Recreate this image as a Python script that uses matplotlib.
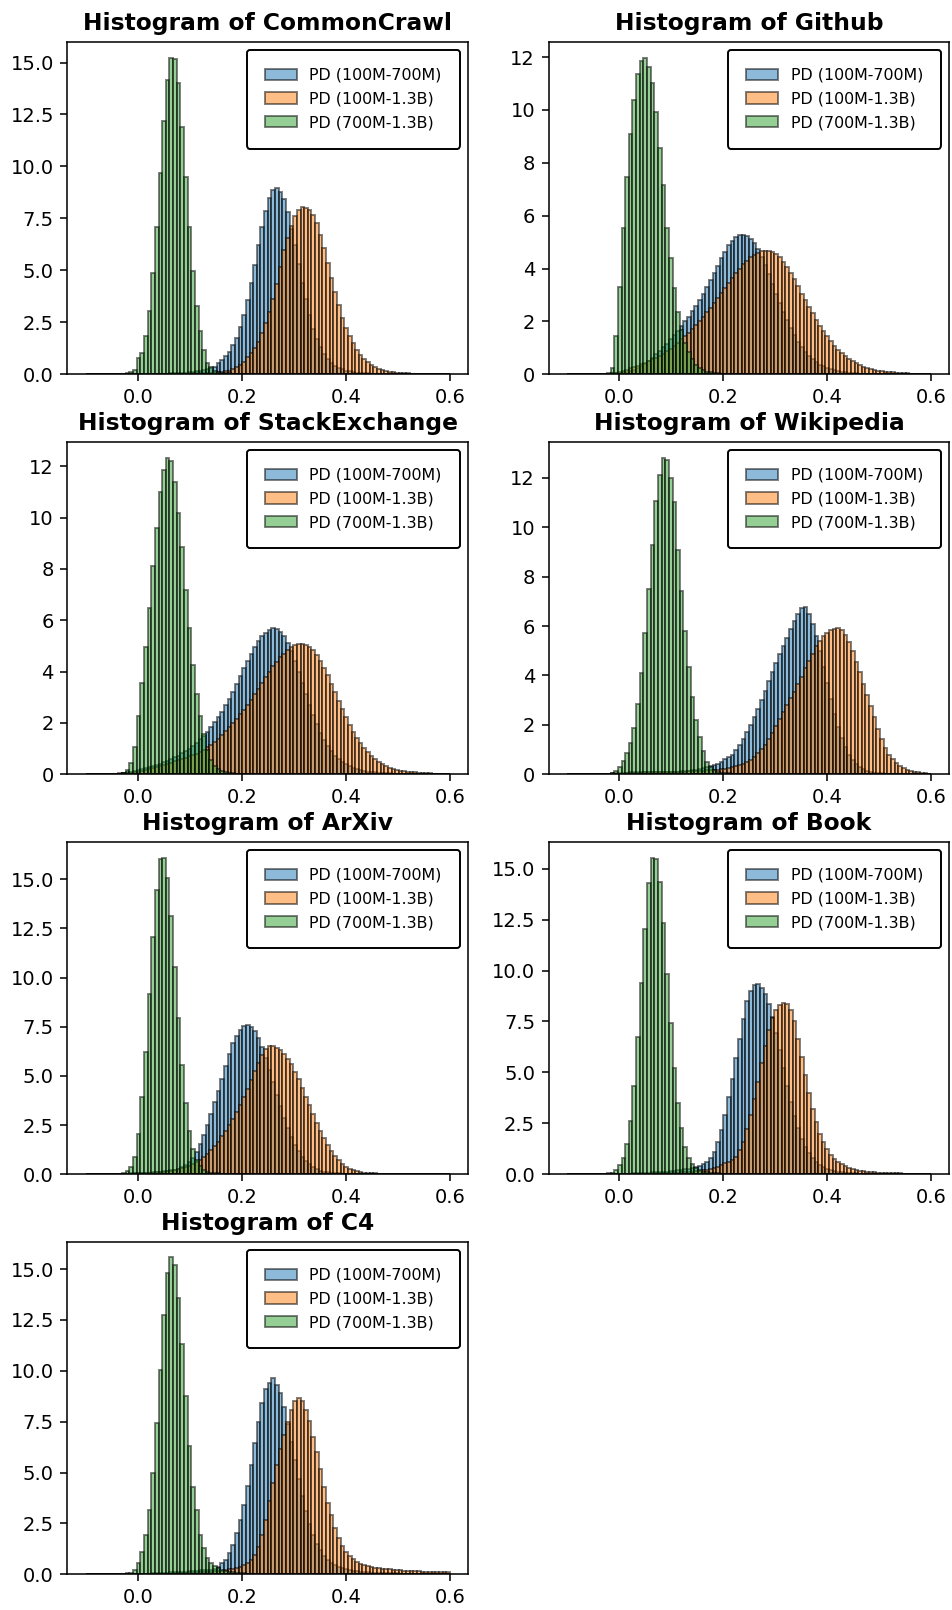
import numpy as np
import matplotlib
matplotlib.use('Agg')
import matplotlib.pyplot as plt

# --- histogram data (density per bin) --- #
# 100 bins spanning -0.1 .. 0.6
BIN_EDGES = np.linspace(-0.1, 0.6, 101)

SERIES_LABELS = ['PD (100M-700M)', 'PD (100M-1.3B)', 'PD (700M-1.3B)']
DATASETS = ['CommonCrawl', 'Github', 'StackExchange', 'Wikipedia', 'ArXiv', 'Book', 'C4']

# CommonCrawl
commoncrawl_100m_700m = [
    0, 0, 0, 0, 0, 0, 0, 0, 0, 0.01,
    0.01, 0.01, 0.01, 0.01, 0.01, 0.01, 0.01, 0.01, 0.02, 0.02,
    0.02, 0.03, 0.03, 0.04, 0.05, 0.06, 0.07, 0.08, 0.1, 0.12,
    0.14, 0.17, 0.2, 0.25, 0.3, 0.37, 0.56, 0.69, 0.88, 1.09,
    1.41, 1.73, 2.26, 2.85, 3.57, 4.41, 5.26, 6.22, 7.1, 7.87,
    8.46, 8.86, 8.97, 8.78, 8.43, 7.82, 7.0, 6.2, 5.3, 4.4,
    3.6, 2.85, 2.2, 1.7, 1.3, 1.0, 0.75, 0.56, 0.42, 0.32,
    0.24, 0.18, 0.14, 0.1, 0.08, 0.06, 0.05, 0.04, 0.03, 0.02,
    0.02, 0.02, 0.02, 0.02, 0.02, 0.01, 0.01, 0.01, 0.01, 0.01,
    0.01, 0.01, 0.01, 0.01, 0.01, 0.01, 0.01, 0.01, 0.01, 0.01,
]
commoncrawl_100m_13b = [
    0, 0, 0, 0, 0, 0, 0, 0, 0, 0,
    0, 0, 0, 0, 0, 0, 0.01, 0.01, 0.01, 0.01,
    0.01, 0.01, 0.01, 0.01, 0.01, 0.02, 0.02, 0.03, 0.03, 0.04,
    0.04, 0.05, 0.05, 0.06, 0.07, 0.08, 0.09, 0.11, 0.14, 0.18,
    0.24, 0.34, 0.45, 0.61, 0.85, 1.04, 1.25, 1.57, 1.97, 2.45,
    3.01, 3.6, 4.34, 5.18, 5.98, 6.54, 7.13, 7.61, 7.9, 8.06,
    8.01, 7.9, 7.66, 7.29, 6.7, 6.06, 5.34, 4.62, 3.97, 3.33,
    2.69, 2.24, 1.84, 1.49, 1.17, 0.93, 0.74, 0.58, 0.45, 0.34,
    0.26, 0.19, 0.14, 0.11, 0.09, 0.07, 0.06, 0.05, 0.04, 0.03,
    0.03, 0.02, 0.02, 0.02, 0.02, 0.02, 0.01, 0.01, 0.01, 0.01,
]
commoncrawl_700m_13b = [
    0, 0, 0, 0, 0, 0, 0, 0, 0.01, 0.02,
    0.03, 0.05, 0.1, 0.2, 0.77, 1.04, 1.84, 3.06, 4.86, 7.1,
    9.7, 12.18, 14.18, 15.24, 15.16, 14.0, 11.9, 9.5, 7.07, 4.97,
    3.3, 2.1, 1.17, 0.53, 0.33, 0.18, 0.12, 0.08, 0.05, 0.04,
    0.03, 0.02, 0.02, 0.02, 0.01, 0.01, 0.01, 0.01, 0.01, 0.01,
    0, 0, 0, 0, 0, 0, 0, 0, 0, 0,
    0, 0, 0, 0, 0, 0, 0, 0, 0, 0,
    0, 0, 0, 0, 0, 0, 0, 0, 0, 0,
    0, 0, 0, 0, 0, 0, 0, 0, 0, 0,
    0, 0, 0, 0, 0, 0, 0, 0, 0, 0,
]

# Github
github_100m_700m = [
    0, 0, 0, 0, 0, 0, 0, 0, 0.01, 0.01,
    0.02, 0.03, 0.04, 0.05, 0.06, 0.08, 0.1, 0.12, 0.15, 0.22,
    0.3, 0.4, 0.5, 0.62, 0.75, 0.88, 1.02, 1.16, 1.32, 1.48,
    1.64, 1.82, 2.0, 2.18, 2.38, 2.58, 2.8, 3.04, 3.3, 3.56,
    3.84, 4.1, 4.38, 4.64, 4.88, 5.06, 5.2, 5.27, 5.26, 5.24,
    5.12, 4.95, 4.72, 4.45, 4.12, 3.78, 3.42, 3.05, 2.7, 2.36,
    2.04, 1.75, 1.48, 1.24, 1.03, 0.85, 0.7, 0.57, 0.46, 0.37,
    0.3, 0.24, 0.19, 0.15, 0.12, 0.1, 0.08, 0.06, 0.05, 0.04,
    0.03, 0.02, 0.02, 0.02, 0.02, 0.02, 0.02, 0.02, 0.02, 0.02,
    0.01, 0.01, 0.01, 0.01, 0.01, 0.01, 0.01, 0.01, 0.01, 0.01,
]
github_100m_13b = [
    0, 0, 0, 0, 0, 0, 0, 0, 0, 0.01,
    0.02, 0.03, 0.04, 0.06, 0.1, 0.14, 0.18, 0.23, 0.28, 0.33,
    0.38, 0.44, 0.5, 0.56, 0.63, 0.7, 0.78, 0.87, 0.97, 1.08,
    1.2, 1.32, 1.45, 1.58, 1.72, 1.87, 2.02, 2.18, 2.35, 2.52,
    2.7, 2.88, 3.07, 3.26, 3.45, 3.64, 3.82, 4.0, 4.16, 4.3,
    4.42, 4.52, 4.6, 4.65, 4.67, 4.66, 4.62, 4.54, 4.42, 4.26,
    4.07, 3.85, 3.6, 3.33, 3.05, 2.8, 2.55, 2.3, 2.05, 1.82,
    1.62, 1.43, 1.25, 1.08, 0.93, 0.8, 0.68, 0.58, 0.49, 0.41,
    0.34, 0.28, 0.23, 0.19, 0.16, 0.13, 0.11, 0.09, 0.08, 0.07,
    0.06, 0.05, 0.04, 0.04, 0.03, 0.02, 0.02, 0.02, 0.02, 0.02,
]
github_700m_13b = [
    0, 0, 0, 0, 0, 0, 0, 0, 0, 0.01,
    0.02, 0.06, 0.23, 1.45, 3.31, 5.54, 7.47, 9.07, 10.39, 11.37,
    11.85, 11.98, 11.62, 11.0, 9.92, 8.54, 7.15, 5.54, 4.38, 3.25,
    2.37, 1.67, 1.17, 0.86, 0.57, 0.35, 0.23, 0.15, 0.1, 0.07,
    0.05, 0.04, 0.03, 0.02, 0.02, 0.01, 0.01, 0.01, 0.01, 0.01,
    0, 0, 0, 0, 0, 0, 0, 0, 0, 0,
    0, 0, 0, 0, 0, 0, 0, 0, 0, 0,
    0, 0, 0, 0, 0, 0, 0, 0, 0, 0,
    0, 0, 0, 0, 0, 0, 0, 0, 0, 0,
    0, 0, 0, 0, 0, 0, 0, 0, 0, 0,
]

# StackExchange
stackexchange_100m_700m = [
    0, 0, 0, 0, 0, 0.01, 0.01, 0.02, 0.03, 0.04,
    0.05, 0.08, 0.1, 0.13, 0.16, 0.2, 0.24, 0.28, 0.32, 0.37,
    0.42, 0.47, 0.53, 0.59, 0.66, 0.73, 0.81, 0.9, 1.0, 1.11,
    1.23, 1.36, 1.5, 1.66, 1.83, 2.02, 2.22, 2.44, 2.68, 2.94,
    3.22, 3.52, 3.83, 4.13, 4.42, 4.7, 4.96, 5.18, 5.37, 5.52,
    5.63, 5.69, 5.66, 5.55, 5.38, 5.12, 4.8, 4.42, 4.0, 3.56,
    3.12, 2.7, 2.3, 1.94, 1.62, 1.34, 1.1, 0.9, 0.73, 0.59,
    0.48, 0.39, 0.31, 0.25, 0.2, 0.16, 0.13, 0.1, 0.08, 0.07,
    0.06, 0.05, 0.04, 0.04, 0.03, 0.03, 0.02, 0.02, 0.02, 0.02,
    0.02, 0.02, 0.02, 0.02, 0.02, 0.02, 0.02, 0.02, 0.02, 0.02,
]
stackexchange_100m_13b = [
    0, 0, 0, 0, 0, 0, 0, 0.01, 0.02, 0.03,
    0.04, 0.05, 0.06, 0.08, 0.1, 0.13, 0.16, 0.19, 0.23, 0.27,
    0.31, 0.35, 0.4, 0.45, 0.5, 0.55, 0.6, 0.65, 0.7, 0.75,
    0.8, 0.88, 0.96, 1.05, 1.15, 1.26, 1.38, 1.52, 1.68, 1.84,
    2.0, 2.17, 2.34, 2.52, 2.71, 2.91, 3.12, 3.34, 3.56, 3.78,
    4.0, 4.2, 4.38, 4.55, 4.7, 4.83, 4.94, 5.02, 5.07, 5.08,
    5.04, 4.96, 4.84, 4.64, 4.42, 4.15, 3.85, 3.53, 3.2, 2.86,
    2.53, 2.22, 1.93, 1.66, 1.42, 1.2, 1.01, 0.85, 0.7, 0.58,
    0.48, 0.39, 0.32, 0.26, 0.21, 0.17, 0.14, 0.12, 0.1, 0.08,
    0.07, 0.06, 0.05, 0.04, 0.04, 0.03, 0.03, 0.02, 0.02, 0.02,
]
stackexchange_700m_13b = [
    0, 0, 0, 0, 0, 0, 0, 0, 0, 0.03,
    0.06, 0.15, 0.43, 1.08, 2.29, 3.55, 4.94, 6.47, 8.12, 9.6,
    11.0, 11.86, 12.34, 12.2, 11.4, 10.17, 8.87, 7.16, 5.69, 4.26,
    3.12, 2.27, 1.57, 0.95, 0.56, 0.33, 0.2, 0.12, 0.08, 0.05,
    0.04, 0.03, 0.02, 0.02, 0.02, 0.01, 0.01, 0.01, 0.01, 0.01,
    0, 0, 0, 0, 0, 0, 0, 0, 0, 0,
    0, 0, 0, 0, 0, 0, 0, 0, 0, 0,
    0, 0, 0, 0, 0, 0, 0, 0, 0, 0,
    0, 0, 0, 0, 0, 0, 0, 0, 0, 0,
    0, 0, 0, 0, 0, 0, 0, 0, 0, 0,
]

# Wikipedia
wikipedia_100m_700m = [
    0, 0, 0, 0, 0, 0, 0, 0, 0.01, 0.02,
    0.03, 0.03, 0.04, 0.04, 0.05, 0.05, 0.07, 0.08, 0.09, 0.1,
    0.1, 0.1, 0.1, 0.1, 0.1, 0.1, 0.1, 0.1, 0.1, 0.1,
    0.11, 0.12, 0.13, 0.14, 0.16, 0.18, 0.21, 0.24, 0.28, 0.32,
    0.37, 0.43, 0.5, 0.6, 0.7, 0.8, 0.98, 1.18, 1.42, 1.7,
    2.0, 2.32, 2.65, 3.0, 3.38, 3.76, 4.14, 4.5, 4.85, 5.18,
    5.5, 5.86, 6.2, 6.48, 6.72, 6.78, 6.5, 6.1, 5.6, 5.0,
    4.35, 3.7, 3.05, 2.45, 1.92, 1.47, 1.1, 0.8, 0.58, 0.41,
    0.29, 0.2, 0.14, 0.1, 0.07, 0.05, 0.04, 0.03, 0.02, 0.02,
    0.02, 0.02, 0.02, 0.01, 0.01, 0.01, 0.01, 0.01, 0.01, 0.01,
]
wikipedia_100m_13b = [
    0, 0, 0, 0, 0, 0, 0, 0, 0.01, 0.02,
    0.02, 0.02, 0.02, 0.02, 0.02, 0.03, 0.04, 0.05, 0.06, 0.07,
    0.07, 0.08, 0.08, 0.08, 0.09, 0.09, 0.09, 0.1, 0.1, 0.1,
    0.1, 0.11, 0.11, 0.12, 0.12, 0.13, 0.14, 0.15, 0.16, 0.17,
    0.18, 0.19, 0.2, 0.22, 0.25, 0.28, 0.32, 0.37, 0.43, 0.5,
    0.58, 0.7, 0.85, 1.02, 1.2, 1.42, 1.68, 1.95, 2.23, 2.52,
    2.8, 3.08, 3.35, 3.65, 3.95, 4.3, 4.6, 4.88, 5.18, 5.4,
    5.58, 5.71, 5.82, 5.9, 5.91, 5.84, 5.64, 5.37, 5.0, 4.56,
    4.13, 3.66, 3.21, 2.77, 2.31, 1.85, 1.43, 1.08, 0.8, 0.6,
    0.44, 0.32, 0.25, 0.19, 0.14, 0.1, 0.08, 0.06, 0.04, 0.03,
]
wikipedia_700m_13b = [
    0, 0, 0, 0, 0, 0, 0, 0, 0, 0,
    0.02, 0.03, 0.05, 0.12, 0.3, 0.55, 0.88, 1.28, 1.89, 2.85,
    4.09, 5.71, 7.49, 9.28, 11.08, 12.12, 12.82, 12.7, 11.98, 11.04,
    9.06, 7.4, 5.78, 4.36, 3.14, 2.2, 1.52, 0.94, 0.51, 0.3,
    0.18, 0.11, 0.07, 0.05, 0.04, 0.03, 0.03, 0.02, 0.02, 0.02,
    0.01, 0.01, 0.01, 0.01, 0.01, 0, 0, 0, 0, 0,
    0, 0, 0, 0, 0, 0, 0, 0, 0, 0,
    0, 0, 0, 0, 0, 0, 0, 0, 0, 0,
    0, 0, 0, 0, 0, 0, 0, 0, 0, 0,
    0, 0, 0, 0, 0, 0, 0, 0, 0, 0,
]

# ArXiv
arxiv_100m_700m = [
    0, 0, 0, 0, 0, 0, 0, 0.01, 0.01, 0.02,
    0.02, 0.03, 0.04, 0.05, 0.06, 0.07, 0.08, 0.09, 0.1, 0.11,
    0.13, 0.15, 0.17, 0.2, 0.23, 0.28, 0.35, 0.45, 0.6, 0.85,
    1.15, 1.55, 2.0, 2.5, 3.05, 3.65, 4.25, 4.85, 5.5, 6.1,
    6.65, 7.05, 7.35, 7.52, 7.6, 7.5, 7.28, 6.92, 6.45, 5.9,
    5.3, 4.68, 4.05, 3.45, 2.88, 2.36, 1.9, 1.5, 1.17, 0.9,
    0.68, 0.5, 0.37, 0.27, 0.19, 0.14, 0.1, 0.07, 0.05, 0.04,
    0.03, 0.02, 0.02, 0.02, 0.02, 0.02, 0.01, 0.01, 0.01, 0.01,
    0.01, 0.01, 0.01, 0.01, 0.01, 0.01, 0, 0, 0, 0,
    0, 0, 0, 0, 0, 0, 0, 0, 0, 0,
]
arxiv_100m_13b = [
    0, 0, 0, 0, 0, 0, 0, 0, 0.01, 0.01,
    0.02, 0.03, 0.03, 0.04, 0.05, 0.06, 0.07, 0.08, 0.09, 0.1,
    0.12, 0.14, 0.16, 0.19, 0.22, 0.26, 0.31, 0.37, 0.44, 0.52,
    0.62, 0.74, 0.88, 1.04, 1.22, 1.43, 1.66, 1.92, 2.2, 2.5,
    2.82, 3.16, 3.52, 3.92, 4.35, 4.8, 5.25, 5.68, 6.05, 6.35,
    6.5, 6.52, 6.4, 6.3, 6.12, 5.88, 5.58, 5.22, 4.82, 4.4,
    3.95, 3.5, 3.06, 2.63, 2.22, 1.84, 1.5, 1.19, 0.92, 0.7,
    0.52, 0.38, 0.28, 0.2, 0.15, 0.11, 0.08, 0.06, 0.05, 0.04,
    0.03, 0.02, 0.02, 0.02, 0.02, 0.02, 0.01, 0.01, 0.01, 0.01,
    0.01, 0.01, 0.01, 0.01, 0.01, 0.01, 0.01, 0.01, 0.01, 0.01,
]
arxiv_700m_13b = [
    0, 0, 0, 0, 0, 0, 0, 0, 0.01, 0.03,
    0.06, 0.15, 0.39, 0.9, 2.05, 3.95, 6.24, 9.15, 12.08, 14.46,
    16.0, 16.1, 15.08, 13.14, 10.56, 7.93, 5.56, 3.61, 2.2, 1.27,
    0.73, 0.4, 0.22, 0.13, 0.08, 0.05, 0.04, 0.03, 0.03, 0.02,
    0.02, 0.01, 0.01, 0.01, 0.01, 0, 0, 0, 0, 0,
    0, 0, 0, 0, 0, 0, 0, 0, 0, 0,
    0, 0, 0, 0, 0, 0, 0, 0, 0, 0,
    0, 0, 0, 0, 0, 0, 0, 0, 0, 0,
    0, 0, 0, 0, 0, 0, 0, 0, 0, 0,
    0, 0, 0, 0, 0, 0, 0, 0, 0, 0,
]

# Book
book_100m_700m = [
    0, 0, 0, 0, 0, 0, 0, 0, 0, 0.01,
    0.01, 0.01, 0.01, 0.01, 0.02, 0.02, 0.03, 0.03, 0.04, 0.05,
    0.06, 0.07, 0.08, 0.09, 0.1, 0.11, 0.12, 0.13, 0.15, 0.17,
    0.19, 0.21, 0.24, 0.27, 0.31, 0.36, 0.42, 0.48, 0.6, 0.8,
    1.1, 1.6, 2.18, 2.9, 3.8, 4.7, 5.7, 6.65, 7.6, 8.5,
    9.0, 9.3, 9.33, 9.15, 8.85, 8.35, 7.7, 6.95, 6.1, 5.2,
    4.35, 3.55, 2.85, 2.25, 1.75, 1.35, 1.03, 0.78, 0.59, 0.45,
    0.34, 0.26, 0.2, 0.15, 0.12, 0.09, 0.07, 0.06, 0.05, 0.04,
    0.03, 0.02, 0.02, 0.02, 0.02, 0.02, 0.02, 0.01, 0.01, 0.01,
    0.01, 0.01, 0.01, 0.01, 0.01, 0.01, 0.01, 0.01, 0.01, 0.01,
]
book_100m_13b = [
    0, 0, 0, 0, 0, 0, 0, 0, 0, 0.01,
    0.01, 0.01, 0.01, 0.01, 0.01, 0.01, 0.01, 0.02, 0.02, 0.02,
    0.02, 0.02, 0.03, 0.03, 0.04, 0.04, 0.05, 0.05, 0.06, 0.07,
    0.08, 0.09, 0.1, 0.11, 0.13, 0.15, 0.17, 0.2, 0.23, 0.27,
    0.32, 0.38, 0.45, 0.53, 0.62, 0.72, 0.87, 1.19, 1.6, 2.2,
    2.9, 3.7, 4.55, 5.45, 6.3, 7.09, 7.66, 8.07, 8.33, 8.4,
    8.36, 8.07, 7.5, 6.65, 5.75, 4.85, 4.0, 3.2, 2.55, 2.0,
    1.57, 1.22, 0.97, 0.75, 0.6, 0.48, 0.39, 0.32, 0.26, 0.21,
    0.17, 0.14, 0.12, 0.1, 0.09, 0.08, 0.07, 0.06, 0.05, 0.05,
    0.04, 0.04, 0.03, 0.03, 0.02, 0.02, 0.02, 0.02, 0.02, 0.02,
]
book_700m_13b = [
    0, 0, 0, 0, 0, 0, 0, 0, 0, 0.01,
    0.02, 0.04, 0.08, 0.2, 0.46, 0.79, 1.47, 2.62, 4.35, 6.73,
    9.38, 12.03, 14.29, 15.55, 15.5, 14.37, 12.32, 9.84, 7.41, 5.24,
    3.52, 2.29, 1.36, 0.79, 0.49, 0.3, 0.2, 0.13, 0.09, 0.06,
    0.05, 0.04, 0.03, 0.03, 0.02, 0.02, 0.01, 0.01, 0.01, 0.01,
    0, 0, 0, 0, 0, 0, 0, 0, 0, 0,
    0, 0, 0, 0, 0, 0, 0, 0, 0, 0,
    0, 0, 0, 0, 0, 0, 0, 0, 0, 0,
    0, 0, 0, 0, 0, 0, 0, 0, 0, 0,
    0, 0, 0, 0, 0, 0, 0, 0, 0, 0,
]

# C4
c4_100m_700m = [
    0, 0, 0, 0, 0, 0, 0, 0, 0, 0.01,
    0.01, 0.01, 0.01, 0.01, 0.01, 0.02, 0.03, 0.03, 0.04, 0.05,
    0.06, 0.07, 0.08, 0.09, 0.1, 0.11, 0.12, 0.13, 0.14, 0.16,
    0.18, 0.19, 0.2, 0.2, 0.22, 0.26, 0.36, 0.54, 0.72, 1.03,
    1.44, 2.02, 2.67, 3.41, 4.34, 5.38, 6.44, 7.46, 8.41, 9.1,
    9.39, 9.64, 9.31, 8.9, 8.2, 7.4, 6.5, 5.6, 4.7, 3.85,
    3.1, 2.45, 1.92, 1.5, 1.17, 0.91, 0.71, 0.56, 0.45, 0.36,
    0.29, 0.24, 0.2, 0.17, 0.14, 0.12, 0.1, 0.09, 0.08, 0.07,
    0.06, 0.05, 0.05, 0.04, 0.04, 0.04, 0.03, 0.03, 0.03, 0.03,
    0.03, 0.03, 0.03, 0.02, 0.02, 0.02, 0.02, 0.02, 0.02, 0.02,
]
c4_100m_13b = [
    0, 0, 0, 0, 0, 0, 0, 0, 0, 0.01,
    0.01, 0.01, 0.01, 0.01, 0.01, 0.01, 0.01, 0.02, 0.02, 0.02,
    0.02, 0.02, 0.03, 0.03, 0.04, 0.04, 0.05, 0.05, 0.06, 0.07,
    0.08, 0.09, 0.1, 0.11, 0.12, 0.14, 0.16, 0.18, 0.21, 0.24,
    0.28, 0.33, 0.38, 0.45, 0.55, 0.7, 0.95, 1.35, 1.93, 2.67,
    3.6, 4.5, 5.35, 6.15, 6.85, 7.5, 8.05, 8.5, 8.66, 8.5,
    8.08, 7.51, 6.77, 6.03, 5.16, 4.31, 3.52, 2.92, 2.26, 1.77,
    1.39, 1.11, 0.9, 0.74, 0.61, 0.51, 0.45, 0.4, 0.36, 0.33,
    0.3, 0.28, 0.26, 0.24, 0.22, 0.21, 0.2, 0.18, 0.17, 0.16,
    0.15, 0.14, 0.13, 0.13, 0.12, 0.11, 0.1, 0.1, 0.09, 0.09,
]
c4_700m_13b = [
    0, 0, 0, 0, 0, 0, 0, 0, 0, 0.01,
    0.02, 0.04, 0.08, 0.21, 0.54, 1.07, 1.93, 3.16, 5.0, 7.43,
    10.05, 12.72, 14.8, 15.57, 15.21, 13.6, 11.31, 8.74, 6.28, 4.31,
    3.16, 1.93, 1.28, 0.79, 0.54, 0.4, 0.3, 0.22, 0.16, 0.12,
    0.09, 0.07, 0.05, 0.04, 0.03, 0.02, 0.02, 0.02, 0.02, 0.02,
    0.01, 0.01, 0.01, 0.01, 0.01, 0, 0, 0, 0, 0,
    0, 0, 0, 0, 0, 0, 0, 0, 0, 0,
    0, 0, 0, 0, 0, 0, 0, 0, 0, 0,
    0, 0, 0, 0, 0, 0, 0, 0, 0, 0,
    0, 0, 0, 0, 0, 0, 0, 0, 0, 0,
]

# group the three series of every dataset
panel_data = [
    (commoncrawl_100m_700m, commoncrawl_100m_13b, commoncrawl_700m_13b),
    (github_100m_700m, github_100m_13b, github_700m_13b),
    (stackexchange_100m_700m, stackexchange_100m_13b, stackexchange_700m_13b),
    (wikipedia_100m_700m, wikipedia_100m_13b, wikipedia_700m_13b),
    (arxiv_100m_700m, arxiv_100m_13b, arxiv_700m_13b),
    (book_100m_700m, book_100m_13b, book_700m_13b),
    (c4_100m_700m, c4_100m_13b, c4_700m_13b),
]

# --- plot --- #
fig, axes = plt.subplots(4, 2, figsize=(6.8, 11.5), dpi=140)
fig.subplots_adjust(left=0.0709, right=0.9971, top=0.9741, bottom=0.0222,
                    wspace=0.2015, hspace=0.2026)
axes = axes.flatten()

bin_lefts = BIN_EDGES[:-1]

for i, name in enumerate(DATASETS):
    ax = axes[i]
    for values, label in zip(panel_data[i], SERIES_LABELS):
        # each bin gets its read density as weight
        ax.hist(bin_lefts, bins=BIN_EDGES, weights=values, alpha=0.5,
                edgecolor='black', label=label)
    ax.set_title(f'Histogram of {name}', fontsize=12, fontweight='bold')
    ax.legend(loc='upper right', fontsize=8.15, edgecolor='black', framealpha=1,
              borderpad=1.15, labelspacing=0.55)

# the 8th slot is empty
fig.delaxes(axes[7])

plt.savefig('out.png', dpi=140)
